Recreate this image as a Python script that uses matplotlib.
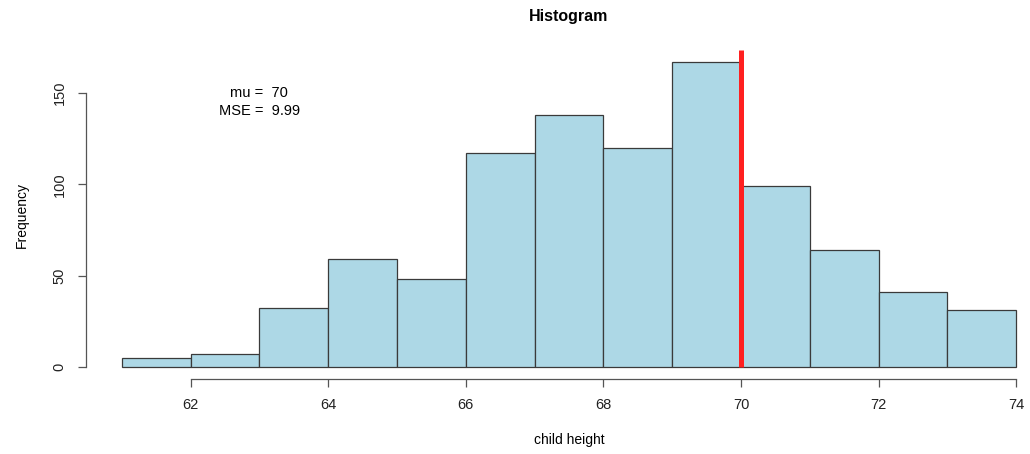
import numpy as np
import matplotlib.pyplot as plt

plt.rcParams["font.family"] = ["Liberation Sans", "DejaVu Sans"]

# child height histogram (Galton), bins of width 1 from 61 to 74
edges = np.arange(61, 75)
counts = [5, 7, 32, 59, 48, 117, 138, 120, 167, 99, 64, 41, 31]
mu = 70
mse = 9.99

fig = plt.figure(figsize=(10.30, 4.54), dpi=100)
ax = fig.add_axes([86 / 1030, 1 - 379 / 454, 966 / 1030, 329 / 454])

ax.bar(edges[:-1], counts, width=1, align="edge", color="#ADD8E6",
       edgecolor="#3a3a3a", linewidth=0.9)
ax.set_xlim(60.48, 74.52)
ax.set_ylim(-6.68, 173.68)
# red line runs from zero up to the top of the plot region
ax.vlines(mu, 0, 173.68, color="#FF2020", lw=3.6)

for s in ("top", "right"):
    ax.spines[s].set_visible(False)
ax.spines["bottom"].set_bounds(62, 74)
ax.spines["left"].set_bounds(0, 150)
for s in ("bottom", "left"):
    ax.spines[s].set_color("#555555")
    ax.spines[s].set_linewidth(0.9)

ax.set_xticks(np.arange(62, 75, 2))
ax.set_yticks([0, 50, 100, 150])
ax.tick_params(direction="out", length=6, width=0.9, color="#555555",
               labelsize=10.5, labelcolor="#222222", pad=8)
for lab in ax.get_yticklabels():
    lab.set_rotation(90)
    lab.set_va("center")

ax.text(63, 150, "mu =  %d" % mu, ha="center", va="center", fontsize=10.5)
ax.text(63, 140, "MSE =  %.2f" % mse, ha="center", va="center", fontsize=10.5)

fig.text(569 / 1030, 1 - 17 / 454, "Histogram", ha="center", va="center",
         fontsize=11.5, fontweight="bold")
fig.text(569 / 1030, 1 - 440 / 454, "child height", ha="center", va="center",
         fontsize=10)
fig.text(22 / 1030, 1 - 215 / 454, "Frequency", ha="center", va="center",
         fontsize=10, rotation=90)

fig.savefig("out.png", dpi=100)
